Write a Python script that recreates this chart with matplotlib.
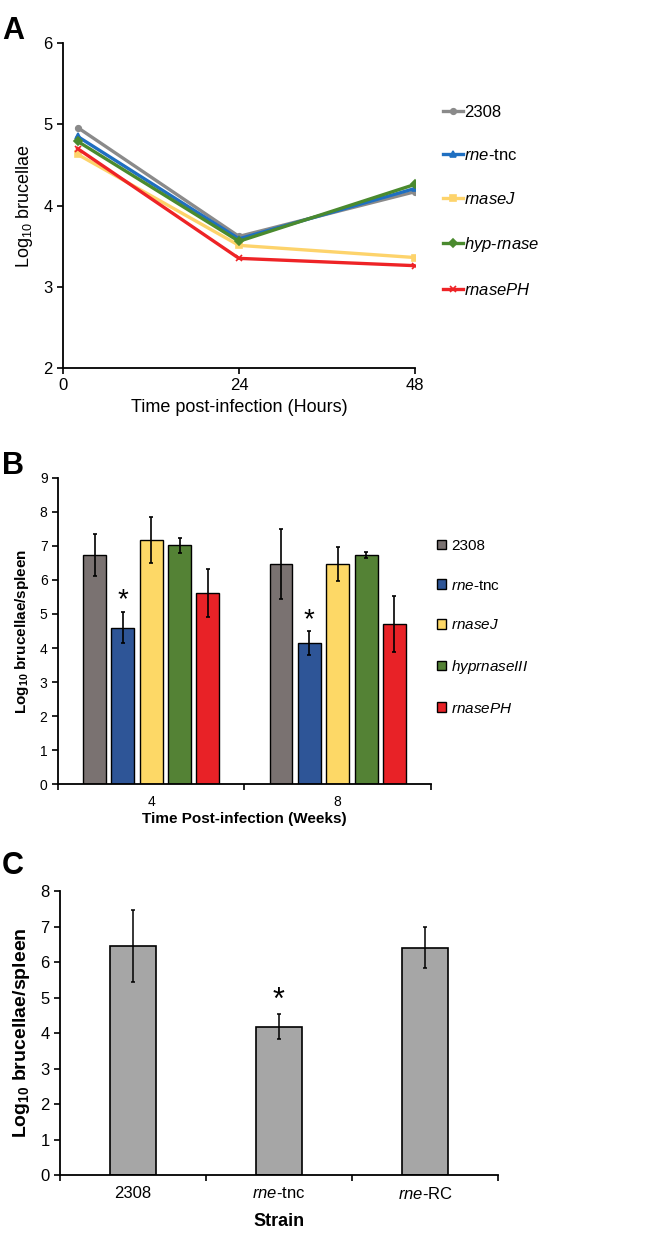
import matplotlib
matplotlib.use('Agg')
import matplotlib.pyplot as plt
from matplotlib.patches import Patch
import numpy as np

plt.rcParams['font.family'] = ['Liberation Sans', 'DejaVu Sans']
plt.rcParams['mathtext.fontset'] = 'custom'
plt.rcParams['mathtext.rm'] = 'Liberation Sans'
plt.rcParams['mathtext.it'] = 'Liberation Sans:italic'
plt.rcParams['mathtext.bf'] = 'Liberation Sans:bold'

# panel A: in vitro time course
hours = [2, 24, 48]
strains_a = ['2308', r'$\it{rne}$-tnc', r'$\it{rnaseJ}$', r'$\it{hyp}$-$\it{rnase}$', r'$\it{rnasePH}$']
log_2308 = [4.96, 3.62, 4.17]
log_rne = [4.85, 3.59, 4.21]
log_rnasej = [4.63, 3.51, 3.36]
log_hyp = [4.79, 3.56, 4.26]
log_rnaseph = [4.70, 3.35, 3.26]

# panel B: mouse spleen, weeks 4 and 8
weeks = ['4', '8']
strains_b = ['2308', r'$\it{rne}$-tnc', r'$\it{rnaseJ}$', r'$\it{hyprnaseIII}$', r'$\it{rnasePH}$']
b_mean = [[6.73, 6.47], [4.60, 4.14], [7.17, 6.47], [7.02, 6.73], [5.61, 4.70]]
b_err = [[0.62, 1.02], [0.45, 0.35], [0.67, 0.50], [0.22, 0.08], [0.71, 0.83]]

# panel C: complementation
strains_c = ['2308', r'$\it{rne}$-tnc', r'$\it{rne}$-RC']
c_mean = [6.46, 4.18, 6.41]
c_err = [1.02, 0.35, 0.59]

fig = plt.figure(figsize=(6.5, 12.33), dpi=100)

def clean(ax):
	ax.spines['top'].set_visible(False)
	ax.spines['right'].set_visible(False)
	ax.spines['left'].set_linewidth(1.3)
	ax.spines['bottom'].set_linewidth(1.3)
	ax.tick_params(direction='out', width=1.2, length=4)

# ---- A ----
ax = fig.add_axes([0.0969, 0.7015, 0.5415, 0.2636])
colors_a = ['#8a8a8a', '#1f6fc1', '#fdd36b', '#4a8a2e', '#ee2326']
markers_a = ['o', '^', 's', 'D', 'x']
series_a = [log_2308, log_rne, log_rnasej, log_hyp, log_rnaseph]
for vals, c, m, lab in zip(series_a, colors_a, markers_a, strains_a):
	ax.plot(hours, vals, color=c, lw=2.4, marker=m, ms=4, mew=1.2, label=lab)
ax.set_xlim(0, 48)
ax.set_ylim(2, 6)
ax.set_xticks([0, 24, 48])
ax.set_yticks([2, 3, 4, 5, 6])
clean(ax)
ax.tick_params(labelsize=12)
ax.set_ylabel(r'Log$_{10}$ brucellae', fontsize=13, labelpad=6)
ax.set_xlabel('Time post-infection (Hours)', fontsize=13, labelpad=4)
ax.legend(loc='upper left', bbox_to_anchor=(1.06, 0.83), frameon=False, fontsize=12,
	labelspacing=1.68, handlelength=1.2, handletextpad=0.1, borderaxespad=0)
fig.text(0.003, 0.975, 'A', fontsize=22, fontweight='bold', va='center')

# ---- B ----
ax = fig.add_axes([0.0892, 0.3639, 0.5738, 0.2487])
colors_b = ['#7a7271', '#2e5597', '#fdd866', '#548235', '#e82227']
x = np.arange(len(weeks))
step = 0.152
width = 0.123
for i in range(5):
	pos = x + (i - 2) * step
	ax.bar(pos, b_mean[i], width, color=colors_b[i], edgecolor='black', linewidth=1.0,
		yerr=b_err[i], error_kw=dict(ecolor='black', elinewidth=1.2, capsize=1.5, capthick=1.2),
		label=strains_b[i])
# asterisks over the rne-tnc bars
for j in range(len(weeks)):
	ax.annotate('*', (x[j] - step, b_mean[1][j] + b_err[1][j]), xytext=(0, -1),
		textcoords='offset points', ha='center', va='bottom', fontsize=20)
ax.set_xlim(-0.5, 1.5)
ax.set_ylim(0, 9)
ax.set_yticks(range(10))
ax.set_xticks([-0.5, 0.5, 1.5])
ax.set_xticklabels([])
ax.set_xticks(x, minor=True)
ax.set_xticklabels(weeks, minor=True)
clean(ax)
ax.tick_params(axis='x', which='minor', length=0, labelsize=10, pad=8)
ax.tick_params(labelsize=10)
ax.set_ylabel(r'Log$_{\mathbf{10}}$ brucellae/spleen', fontsize=11, fontweight='bold', labelpad=6)
ax.set_xlabel('Time Post-infection (Weeks)', fontsize=11, fontweight='bold', labelpad=2)
handles = [Patch(facecolor=c, edgecolor='black', linewidth=1.0) for c in colors_b]
ax.legend(handles, strains_b, loc='upper left', bbox_to_anchor=(1.0, 0.82), frameon=False,
	fontsize=11, labelspacing=1.68, handlelength=0.6, handleheight=0.6, handletextpad=0.3,
	borderaxespad=0)
fig.text(0.003, 0.622, 'B', fontsize=22, fontweight='bold', va='center')

# ---- C ----
ax = fig.add_axes([0.0923, 0.0470, 0.6738, 0.2303])
xc = np.arange(len(strains_c))
ax.bar(xc, c_mean, 0.315, color='#a6a6a6', edgecolor='black', linewidth=1.2,
	yerr=c_err, error_kw=dict(ecolor='black', elinewidth=1.1, capsize=1.5, capthick=1.1))
ax.annotate('*', (xc[1], c_mean[1] + c_err[1]), xytext=(0, -1), textcoords='offset points',
	ha='center', va='bottom', fontsize=22)
ax.set_xlim(-0.5, 2.5)
ax.set_ylim(0, 8)
ax.set_yticks(range(9))
ax.set_xticks([-0.5, 0.5, 1.5, 2.5])
ax.set_xticklabels([])
ax.set_xticks(xc, minor=True)
ax.set_xticklabels(strains_c, minor=True)
clean(ax)
ax.tick_params(axis='x', which='minor', length=0, labelsize=12, pad=8)
ax.tick_params(labelsize=12)
ax.set_ylabel(r'Log$_{\mathbf{10}}$ brucellae/spleen', fontsize=14, fontweight='bold', labelpad=6)
ax.set_xlabel('Strain', fontsize=13, fontweight='bold', labelpad=8)
fig.text(0.003, 0.298, 'C', fontsize=22, fontweight='bold', va='center')

fig.savefig('out.png', dpi=100)
